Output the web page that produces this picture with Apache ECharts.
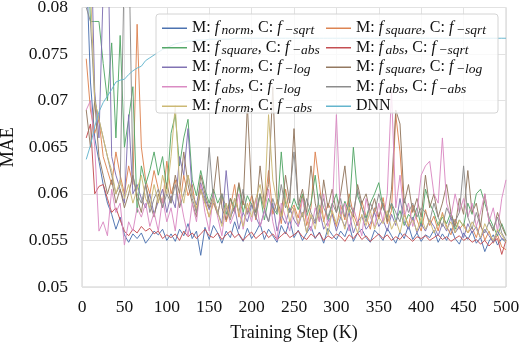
<!DOCTYPE html>
<html><head><meta charset="utf-8">
<script src="https://cdn.jsdelivr.net/npm/echarts@6/dist/echarts.min.js"></script>
<style>html,body{margin:0;padding:0;background:#fff}#c{width:520px;height:343px}</style>
</head><body><div id="c"></div>
<script>
const steps = [5,10,15,20,25,30,35,40,45,50,55,60,65,70,75,80,85,90,95,100,
105,110,115,120,125,130,135,140,145,150,155,160,165,170,175,180,185,190,195,200,
205,210,215,220,225,230,235,240,245,250,255,260,265,270,275,280,285,290,295,300,
305,310,315,320,325,330,335,340,345,350,355,360,365,370,375,380,385,390,395,400,
405,410,415,420,425,430,435,440,445,450,455,460,465,470,475,480,485,490,495,500];

const seriesNames = [
  'M: f_norm, C: f_-sqrt','M: f_square, C: f_-sqrt',
  'M: f_square, C: f_-abs','M: f_abs, C: f_-sqrt',
  'M: f_norm, C: f_-log','M: f_square, C: f_-log',
  'M: f_abs, C: f_-log','M: f_abs, C: f_-abs',
  'M: f_norm, C: f_-abs','DNN'];

const normSqrt = [0.0850,0.0720,0.0660,0.0635,0.0610,0.0590,0.0578,0.0562,0.0575,0.0556,
0.0548,0.0557,0.0552,0.0558,0.0547,0.0553,0.0560,0.0556,0.0562,0.0550,
0.0557,0.0549,0.0562,0.0555,0.0568,0.0552,0.0560,0.0534,0.0564,0.0551,
0.0566,0.0558,0.0547,0.0560,0.0553,0.0570,0.0556,0.0549,0.0563,0.0552,
0.0559,0.0568,0.0551,0.0562,0.0555,0.0548,0.0566,0.0557,0.0572,0.0553,
0.0561,0.0550,0.0558,0.0565,0.0552,0.0559,0.0547,0.0563,0.0556,0.0551,
0.0560,0.0554,0.0567,0.0549,0.0558,0.0562,0.0553,0.0548,0.0561,0.0556,
0.0550,0.0563,0.0555,0.0547,0.0559,0.0552,0.0566,0.0551,0.0558,0.0549,
0.0556,0.0553,0.0561,0.0548,0.0557,0.0550,0.0563,0.0552,0.0546,0.0558,
0.0551,0.0560,0.0547,0.0553,0.0538,0.0549,0.0556,0.0545,0.0552,0.0548];

const squareSqrt = [0.0745,0.0690,0.0665,0.0680,0.0640,0.0625,0.0610,0.0645,0.0620,0.0600,
0.0630,0.0610,0.0782,0.0650,0.0615,0.0600,0.0625,0.0605,0.0590,0.0635,
0.0600,0.0615,0.0585,0.0620,0.0598,0.0610,0.0580,0.0605,0.0592,0.0575,
0.0590,0.0578,0.0600,0.0570,0.0585,0.0610,0.0575,0.0592,0.0580,0.0598,
0.0572,0.0600,0.0583,0.0625,0.0578,0.0592,0.0568,0.0605,0.0580,0.0588,
0.0574,0.0598,0.0566,0.0585,0.0645,0.0610,0.0570,0.0590,0.0580,0.0565,
0.0588,0.0572,0.0600,0.0578,0.0566,0.0592,0.0576,0.0562,0.0585,0.0573,
0.0596,0.0568,0.0582,0.0685,0.0645,0.0580,0.0565,0.0588,0.0572,0.0560,
0.0583,0.0566,0.0576,0.0560,0.0580,0.0565,0.0556,0.0573,0.0562,0.0568,
0.0558,0.0564,0.0553,0.0568,0.0550,0.0560,0.0547,0.0556,0.0543,0.0540];

const squareAbs = [0.0900,0.0785,0.0785,0.0785,0.0740,0.0700,0.0762,0.0660,0.0770,0.0650,
0.0680,0.0715,0.0580,0.0630,0.0610,0.0625,0.0645,0.0620,0.0640,0.0605,
0.0665,0.0685,0.0630,0.0660,0.0680,0.0615,0.0598,0.0625,0.0605,0.0590,
0.0605,0.0590,0.0600,0.0578,0.0595,0.0585,0.0610,0.0580,0.0598,0.0588,
0.0580,0.0600,0.0572,0.0595,0.0585,0.0578,0.0645,0.0590,0.0580,0.0595,
0.0583,0.0600,0.0576,0.0590,0.0620,0.0582,0.0595,0.0572,0.0588,0.0600,
0.0576,0.0592,0.0580,0.0650,0.0598,0.0585,0.0574,0.0590,0.0600,0.0612,
0.0585,0.0575,0.0590,0.0570,0.0582,0.0566,0.0578,0.0572,0.0585,0.0565,
0.0605,0.0590,0.0580,0.0566,0.0575,0.0568,0.0580,0.0562,0.0572,0.0565,
0.0590,0.0578,0.0600,0.0605,0.0590,0.0575,0.0565,0.0555,0.0568,0.0556];

const absSqrt = [0.0660,0.0675,0.0600,0.0608,0.0610,0.0595,0.0580,0.0585,0.0572,0.0560,
0.0555,0.0562,0.0558,0.0565,0.0560,0.0563,0.0557,0.0560,0.0552,0.0556,
0.0553,0.0557,0.0550,0.0560,0.0554,0.0558,0.0552,0.0557,0.0562,0.0555,
0.0553,0.0558,0.0551,0.0556,0.0560,0.0553,0.0557,0.0550,0.0555,0.0559,
0.0552,0.0556,0.0560,0.0553,0.0557,0.0551,0.0555,0.0559,0.0553,0.0556,
0.0560,0.0554,0.0551,0.0557,0.0553,0.0558,0.0550,0.0555,0.0552,0.0557,
0.0554,0.0549,0.0556,0.0552,0.0558,0.0551,0.0555,0.0549,0.0553,0.0557,
0.0552,0.0556,0.0550,0.0554,0.0551,0.0557,0.0553,0.0549,0.0554,0.0552,
0.0555,0.0550,0.0553,0.0556,0.0551,0.0554,0.0549,0.0552,0.0555,0.0550,
0.0553,0.0548,0.0551,0.0546,0.0550,0.0544,0.0549,0.0552,0.0535,0.0550];

const normLog = [0.0950,0.0900,0.0710,0.0660,0.0820,0.0900,0.0640,0.0620,0.0605,0.0590,
0.0685,0.0600,0.0610,0.0595,0.0585,0.0600,0.0578,0.0592,0.0605,0.0580,
0.0598,0.0585,0.0640,0.0620,0.0670,0.0600,0.0588,0.0612,0.0595,0.0583,
0.0595,0.0580,0.0568,0.0625,0.0575,0.0585,0.0562,0.0580,0.0570,0.0588,
0.0575,0.0565,0.0582,0.0570,0.0590,0.0560,0.0578,0.0568,0.0585,0.0572,
0.0565,0.0580,0.0558,0.0575,0.0568,0.0582,0.0562,0.0570,0.0578,0.0560,
0.0575,0.0565,0.0580,0.0558,0.0570,0.0576,0.0562,0.0568,0.0580,0.0565,
0.0572,0.0560,0.0578,0.0566,0.0595,0.0570,0.0562,0.0575,0.0558,0.0568,
0.0560,0.0572,0.0565,0.0555,0.0568,0.0560,0.0575,0.0558,0.0565,0.0553,
0.0568,0.0558,0.0565,0.0552,0.0562,0.0555,0.0548,0.0560,0.0552,0.0550];

const squareLog = [0.0690,0.0650,0.0700,0.0640,0.0620,0.0600,0.0615,0.0590,0.0605,0.0585,
0.0600,0.0620,0.0595,0.0580,0.0610,0.0590,0.0575,0.0600,0.0585,0.0612,
0.0590,0.0620,0.0600,0.0645,0.0610,0.0590,0.0575,0.0620,0.0600,0.0585,
0.0600,0.0640,0.0585,0.0572,0.0595,0.0580,0.0612,0.0588,0.0695,0.0600,
0.0580,0.0630,0.0590,0.0610,0.0715,0.0595,0.0578,0.0620,0.0590,0.0670,
0.0588,0.0605,0.0580,0.0630,0.0590,0.0570,0.0615,0.0585,0.0605,0.0580,
0.0600,0.0630,0.0585,0.0575,0.0610,0.0590,0.0600,0.0580,0.0595,0.0575,
0.0590,0.0570,0.0605,0.0690,0.0675,0.0590,0.0610,0.0580,0.0595,0.0575,
0.0620,0.0585,0.0600,0.0575,0.0590,0.0610,0.0580,0.0565,0.0595,0.0578,
0.0625,0.0580,0.0590,0.0565,0.0600,0.0570,0.0560,0.0580,0.0565,0.0555];

const absLog = [0.0690,0.0700,0.0650,0.0560,0.0570,0.0555,0.0605,0.0580,0.0590,0.0545,
0.0570,0.0560,0.0585,0.0575,0.0590,0.0565,0.0580,0.0560,0.0595,0.0570,
0.0585,0.0560,0.0600,0.0575,0.0555,0.0590,0.0570,0.0610,0.0580,0.0560,
0.0600,0.0575,0.0555,0.0590,0.0568,0.0580,0.0600,0.0562,0.0585,0.0570,
0.0595,0.0565,0.0580,0.0605,0.0570,0.0550,0.0590,0.0575,0.0560,0.0585,
0.0565,0.0595,0.0575,0.0560,0.0585,0.0570,0.0600,0.0565,0.0580,0.0685,
0.0575,0.0590,0.0560,0.0585,0.0570,0.0555,0.0595,0.0575,0.0565,0.0590,
0.0570,0.0600,0.0710,0.0585,0.0620,0.0575,0.0590,0.0565,0.0580,0.0620,
0.0630,0.0635,0.0600,0.0590,0.0660,0.0590,0.0575,0.0600,0.0580,0.0595,
0.0575,0.0590,0.0565,0.0580,0.0600,0.0570,0.0585,0.0560,0.0595,0.0615];

const absAbs = [0.0800,0.0785,0.0700,0.0680,0.0660,0.0640,0.0620,0.0600,0.0610,0.0850,
0.0880,0.0620,0.0600,0.0590,0.0610,0.0580,0.0595,0.0605,0.0585,0.0600,
0.0590,0.0610,0.0585,0.0600,0.0620,0.0595,0.0580,0.0605,0.0590,0.0650,
0.0592,0.0578,0.0600,0.0585,0.0572,0.0595,0.0580,0.0605,0.0578,0.0590,
0.0575,0.0600,0.0585,0.0570,0.0595,0.0580,0.0610,0.0585,0.0600,0.0645,
0.0590,0.0575,0.0595,0.0580,0.0570,0.0600,0.0585,0.0575,0.0590,0.0580,
0.0595,0.0575,0.0590,0.0580,0.0605,0.0585,0.0570,0.0590,0.0580,0.0600,
0.0585,0.0575,0.0590,0.0580,0.0570,0.0595,0.0580,0.0590,0.0575,0.0585,
0.0580,0.0570,0.0590,0.0575,0.0565,0.0585,0.0575,0.0570,0.0580,0.0630,
0.0575,0.0562,0.0580,0.0565,0.0558,0.0570,0.0562,0.0575,0.0558,0.0550];

const normAbs = [0.0850,0.0820,0.0700,0.0680,0.0660,0.0640,0.0625,0.0600,0.0615,0.0595,
0.0610,0.0590,0.0605,0.0620,0.0595,0.0585,0.0610,0.0590,0.0620,0.0600,
0.0640,0.0695,0.0610,0.0590,0.0620,0.0600,0.0585,0.0605,0.0590,0.0575,
0.0595,0.0580,0.0565,0.0590,0.0575,0.0595,0.0580,0.0565,0.0590,0.0575,
0.0595,0.0610,0.0585,0.0685,0.0615,0.0590,0.0575,0.0595,0.0570,0.0585,
0.0568,0.0580,0.0558,0.0578,0.0562,0.0588,0.0572,0.0556,0.0582,0.0568,
0.0578,0.0562,0.0586,0.0572,0.0558,0.0578,0.0566,0.0582,0.0562,0.0575,
0.0568,0.0582,0.0562,0.0572,0.0558,0.0578,0.0565,0.0572,0.0560,0.0575,
0.0562,0.0572,0.0558,0.0568,0.0578,0.0562,0.0570,0.0558,0.0572,0.0565,
0.0558,0.0570,0.0562,0.0553,0.0568,0.0558,0.0550,0.0562,0.0556,0.0548];

const dnn = [0.0637,0.0652,0.0672,0.0688,0.0698,0.0705,0.0712,0.0720,0.0722,0.0723,
0.0728,0.0732,0.0735,0.0737,0.0743,0.0746,0.0749,0.0752,0.0755,0.0757,
0.0759,0.0761,0.0762,0.0763,0.0764,0.0764,0.0765,0.0765,0.0765,0.0766,
0.0766,0.0766,0.0766,0.0766,0.0766,0.0767,0.0767,0.0767,0.0767,0.0767,
0.0767,0.0767,0.0767,0.0767,0.0767,0.0767,0.0767,0.0767,0.0767,0.0767,
0.0767,0.0767,0.0767,0.0767,0.0767,0.0767,0.0767,0.0767,0.0767,0.0767,
0.0767,0.0767,0.0767,0.0767,0.0767,0.0767,0.0767,0.0767,0.0767,0.0767,
0.0767,0.0767,0.0767,0.0767,0.0767,0.0767,0.0767,0.0767,0.0767,0.0767,
0.0767,0.0767,0.0767,0.0767,0.0767,0.0767,0.0767,0.0767,0.0767,0.0767,
0.0767,0.0767,0.0767,0.0767,0.0767,0.0767,0.0767,0.0767,0.0767,0.0767];

const allValues = [normSqrt, squareSqrt, squareAbs, absSqrt, normLog, squareLog, absLog, absAbs, normAbs, dnn];
const colors = ['#4C72B0','#DD8452','#55A868','#C44E52','#8172B3','#937860','#DA8BC3','#8C8C8C','#CCB974','#64B5CD'];

const FONT = 'Liberation Serif';
function fmtName(name) {
  const m = name.match(/^M: f_(\w+), C: f_-(\w+)$/);
  if (!m) return name;
  return 'M: {i|f}{s|' + m[1] + '}, C: {i|f}{s|\u2212' + m[2] + '}';
}
const LH = 18.5;
const richStyles = {
  i: {fontFamily: FONT, fontStyle: 'italic', fontSize: 16, lineHeight: LH, color: '#111', padding: [0, 2.5, 0, 0]},
  s: {fontFamily: FONT, fontStyle: 'italic', fontSize: 13.5, lineHeight: 12, verticalAlign: 'bottom', color: '#111'}
};
function makeLegend(names, left) {
  return {
    data: names, orient: 'vertical', left: left, top: 19, itemGap: 1, padding: 0,
    icon: 'rect', itemWidth: 25, itemHeight: 1.5,
    formatter: fmtName, selectedMode: false,
    textStyle: {fontFamily: FONT, fontSize: 16, lineHeight: LH, color: '#111', rich: richStyles}
  };
}

const chart = echarts.init(document.getElementById('c'), null, {renderer: 'canvas'});
chart.setOption({
  animation: false,
  color: colors,
  grid: {left: 82, right: 14, top: 7.5, bottom: 56, show: true, borderColor: '#cfcfcf', borderWidth: 1,
         containLabel: false, outerBoundsMode: 'none'},
  graphic: [{
    type: 'rect', z: 3, shape: {x: 156, y: 14, width: 342, height: 99, r: 3},
    style: {fill: 'rgba(255,255,255,0.8)', stroke: '#d4d4d4', lineWidth: 1}
  }],
  legend: [
    makeLegend([seriesNames[0], seriesNames[2], seriesNames[4], seriesNames[6], seriesNames[8]], 162),
    makeLegend([seriesNames[1], seriesNames[3], seriesNames[5], seriesNames[7], seriesNames[9]], 326)
  ],
  xAxis: {
    type: 'value', min: 0, max: 500, interval: 50,
    name: 'Training Step (K)', nameLocation: 'middle', nameGap: 37,
    nameTextStyle: {fontFamily: FONT, fontSize: 18, color: '#111'},
    axisLine: {show: false}, axisTick: {show: false},
    axisLabel: {fontFamily: FONT, fontSize: 17.5, color: '#111', margin: 11},
    splitLine: {show: true, lineStyle: {color: '#e2e2e2', width: 1}}
  },
  yAxis: {
    type: 'value', min: 0.05, max: 0.08, interval: 0.005,
    name: 'MAE', nameLocation: 'middle', nameGap: 57, nameRotate: 90,
    nameTextStyle: {fontFamily: FONT, fontSize: 18, color: '#111'},
    axisLine: {show: false}, axisTick: {show: false},
    axisLabel: {fontFamily: FONT, fontSize: 17.5, color: '#111', margin: 14},
    splitLine: {show: true, lineStyle: {color: '#e2e2e2', width: 1}}
  },
  series: seriesNames.map((n, k) => ({
    name: n, type: 'line', showSymbol: false, symbol: 'none', clip: true,
    lineStyle: {width: 1, color: colors[k], opacity: 0.95},
    itemStyle: {color: colors[k]},
    z: 2,
    data: steps.map((s, i) => [s, allValues[k][i]])
  }))
});
</script></body></html>
